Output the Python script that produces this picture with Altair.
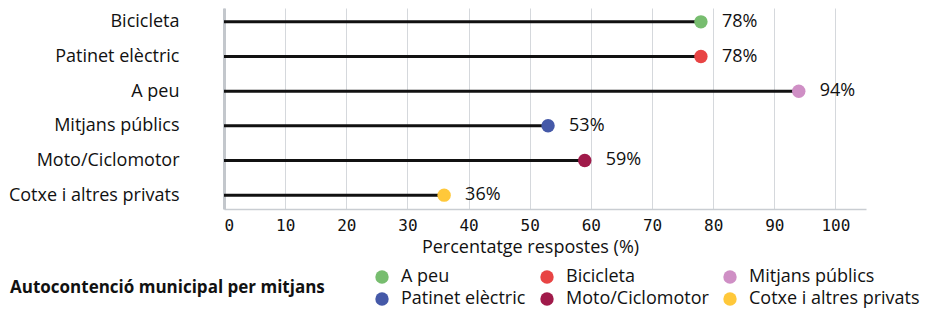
import altair as alt
import pandas as pd

categories = ["Bicicleta", "Patinet elèctric", "A peu", "Mitjans públics",
              "Moto/Ciclomotor", "Cotxe i altres privats"]
values = [78, 78, 94, 53, 59, 36]
legend_groups = ["A peu", "Bicicleta", "Mitjans públics", "Patinet elèctric",
                 "Moto/Ciclomotor", "Cotxe i altres privats"]
row_group = ["A peu", "Bicicleta", "Mitjans públics", "Patinet elèctric",
             "Moto/Ciclomotor", "Cotxe i altres privats"]
group_colors = ["#77BD6F", "#E84444", "#CF8FC5", "#4559A8", "#A01A4A", "#FFC83A"]
x_ticks = [0, 10, 20, 30, 40, 50, 60, 70, 80, 90, 100]

df = pd.DataFrame({
    "cat": categories,
    "value": values,
    "group": row_group,
    "label": [f"{v}%" for v in values],
})

FONT = "Open Sans"
FS = 18

x_enc = alt.X("value:Q",
              scale=alt.Scale(domain=[0, 105], nice=False),
              axis=alt.Axis(values=x_ticks, title="Percentatge respostes (%)",
                            grid=True, gridColor="#D5D8DC", gridWidth=1,
                            domainColor="#C9CDD2", domainWidth=1.5,
                            ticks=False, tickSize=0, labelPadding=8,
                            labelFont="DejaVu Sans Mono", labelFontSize=16,
                            labelColor="#111111",
                            titleFont=FONT, titleFontSize=FS, titleFontWeight="normal",
                            titleColor="#111111", titlePadding=5, titleX=306))
y_enc = alt.Y("cat:N", sort=categories,
              scale=alt.Scale(type="point", padding=0.4),
              axis=alt.Axis(title=None, ticks=False, tickSize=0, labelPadding=45,
                            labelFont=FONT, labelFontSize=FS, labelColor="#111111",
                            labelLimit=0,
                            domainColor="#C3C7CC", domainWidth=3, grid=False))

base = alt.Chart(df)

rules = base.mark_rule(color="#111111", strokeWidth=3).encode(
    x=x_enc, x2=alt.datum(0), y=y_enc)

points = base.mark_circle(size=180, opacity=1).encode(
    x=alt.X("value:Q"), y=alt.Y("cat:N", sort=categories),
    color=alt.Color("group:N", sort=legend_groups,
                    scale=alt.Scale(domain=legend_groups, range=group_colors),
                    legend=alt.Legend(
                        title="Autocontenció municipal per mitjans",
                        orient="none", legendX=-214, legendY=260,
                        direction="horizontal", columns=3,
                        titleOrient="left", titleAnchor="middle", titleBaseline="middle",
                        titleFont=FONT, titleFontSize=17, titleFontWeight="bold",
                        titleColor="#111111", titlePadding=48, titleLimit=0,
                        symbolType="circle", symbolSize=180, symbolStrokeWidth=0,
                        symbolOpacity=1,
                        labelFont=FONT, labelFontSize=FS, labelColor="#111111",
                        labelLimit=0,
                        labelOffset=10, columnPadding=12, rowPadding=4, padding=0)))

texts = base.mark_text(align="left", baseline="middle", dx=21,
                       font=FONT, fontSize=FS, color="#111111").encode(
    x=alt.X("value:Q"), y=alt.Y("cat:N", sort=categories), text="label:N")

chart = alt.layer(rules, points, texts).properties(
    width=642, height=201,
    autosize=alt.AutoSizeParams(type="none"),
    padding={"left": 216, "top": 0, "right": 67, "bottom": 101},
).configure_view(stroke=None)

chart.save("out.html", embed_options={"renderer": "svg", "actions": False})
